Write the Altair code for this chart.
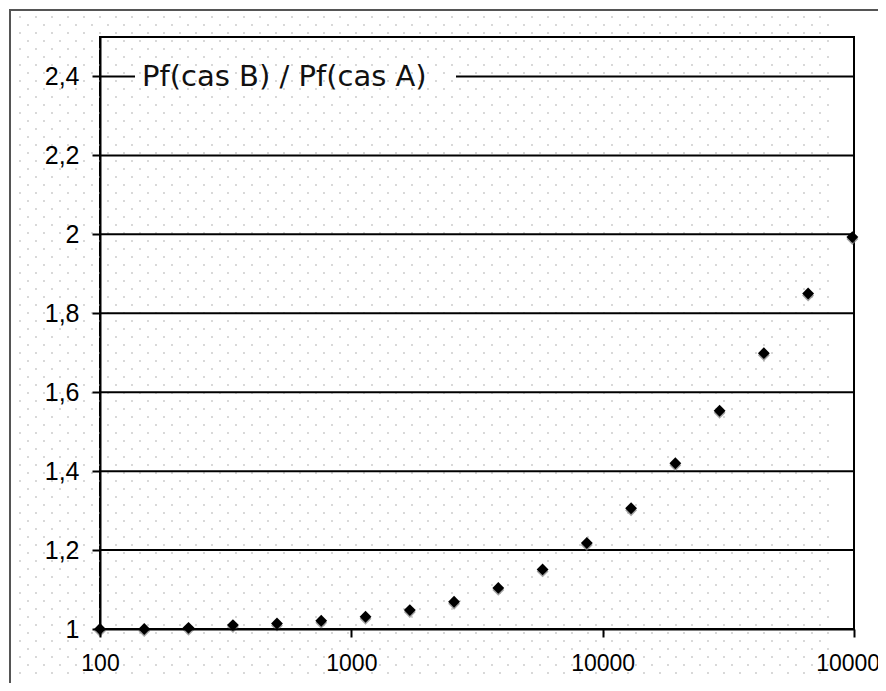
import altair as alt
import pandas as pd

# ---- data ----
x_values = [100, 150, 225, 338, 506, 759, 1139, 1709, 2563, 3844, 5767, 8650,
            12975, 19462, 29193, 43789, 65684, 98526]
ratio_values = [1.0, 1.0, 1.003, 1.01, 1.014, 1.021, 1.031, 1.048, 1.069, 1.104,
                1.151, 1.218, 1.306, 1.42, 1.553, 1.699, 1.85, 1.993]
x_ticks = [100, 1000, 10000, 100000]
y_ticks = [1, 1.2, 1.4, 1.6, 1.8, 2, 2.2, 2.4]
legend_label = ["Pf(cas B) / Pf(cas A)"]

df = pd.DataFrame({"x": x_values, "ratio": ratio_values})
lab = pd.DataFrame({"label": legend_label})
grid_df = pd.DataFrame({"g": y_ticks})

W, H = 754, 592

xscale = alt.Scale(type="log", domain=[100, 100000], nice=False)
yscale = alt.Scale(domain=[1, 2.5], nice=False, zero=False)

x_axis = alt.Axis(values=x_ticks, format="d", title=None, grid=False,
                  domainColor="black", domainWidth=2, tickColor="black",
                  tickWidth=2, tickSize=8, labelFont="Liberation Sans",
                  labelFontSize=23, labelColor="black", labelPadding=15,
                  labelFlush=False, labelOverlap=False, zindex=1)
y_axis = alt.Axis(values=y_ticks, title=None, grid=False,
                  domainColor="black", domainWidth=2,
                  tickColor="black", tickWidth=2, tickSize=8,
                  labelFont="Liberation Sans", labelFontSize=25,
                  labelColor="black", labelPadding=13, labelFlush=False,
                  labelExpr="replace(format(datum.value, '~g'), '.', ',')",
                  zindex=1)

# dotted Excel-style background
dots = (
    alt.Chart(alt.sequence(0, 83 * 52, as_="n"))
    .transform_calculate(r="floor(datum.n / 52)", i="(datum.n % 52) - 6")
    .transform_calculate(px="16 * datum.i + 8 * (datum.r % 2)", py="-20 + 8 * datum.r")
    .transform_filter("datum.px > -88")
    .mark_square(size=3, color="#c4c4c4", opacity=1)
    .encode(x=alt.X("px:Q", scale=None, axis=None),
            y=alt.Y("py:Q", scale=None, axis=None))
)

# horizontal gridlines
grid = alt.Chart(grid_df).mark_rule(color="black", strokeWidth=2).encode(
    y=alt.Y("g:Q", scale=yscale, axis=y_axis)
)

# white strip that breaks the 2,4 gridline behind the legend text
cover = alt.Chart(lab).mark_rect(color="white").encode(
    x=alt.value(35), x2=alt.value(356), y=alt.value(37), y2=alt.value(43)
)

legend = alt.Chart(lab).mark_text(
    align="left", baseline="middle", font="DejaVu Sans", fontSize=29, color="#111"
).encode(x=alt.value(42), y=alt.value(40), text="label:N")

shadow = alt.Chart(df).mark_point(
    shape="diamond", filled=True, color="#7a7a7a", size=140, opacity=0.7, yOffset=2
).encode(x=alt.X("x:Q", scale=xscale, axis=x_axis),
         y=alt.Y("ratio:Q", scale=yscale, axis=y_axis))

points = alt.Chart(df).mark_point(
    shape="diamond", filled=True, color="black", size=140, opacity=1
).encode(x=alt.X("x:Q", scale=xscale, axis=x_axis),
         y=alt.Y("ratio:Q", scale=yscale, axis=y_axis))

frame = alt.Chart(lab).mark_rect(
    fillOpacity=0, stroke="#555555", strokeWidth=2
).encode(x=alt.value(-90), x2=alt.value(900), y=alt.value(-27), y2=alt.value(700))

chart = (
    alt.layer(dots, grid, cover, legend, shadow, points, frame)
    .properties(width=W, height=H,
                padding={"left": 92, "top": 29, "right": 24, "bottom": 54},
                autosize=alt.AutoSizeParams(type="none"),
                background="white")
    .configure_view(stroke="black", strokeWidth=2)
)

chart.save("out.html", embed_options={"renderer": "svg", "actions": False})
